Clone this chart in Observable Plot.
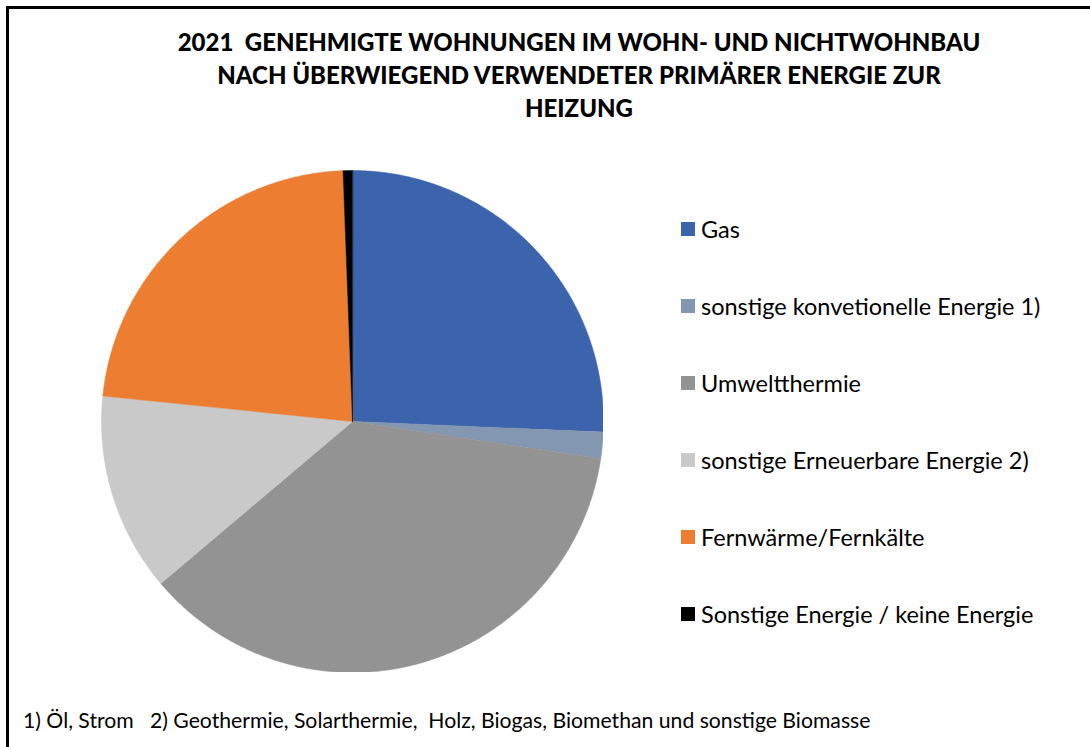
<!DOCTYPE html>
<html><head><meta charset="utf-8">
<script src="https://cdn.jsdelivr.net/npm/d3@7"></script>
<script src="https://cdn.jsdelivr.net/npm/@observablehq/plot@0.6"></script>
<style>
body{margin:0;background:#fff;font-family:Lato,"Open Sans",sans-serif;}
#frame{position:absolute;left:6px;top:6px;width:1200px;height:900px;border:3px solid #000;box-sizing:border-box;}
#title{position:absolute;left:0;width:1158px;top:25px;text-align:center;font-weight:900;font-size:24px;line-height:33px;color:#000;}
#pie{position:absolute;left:101px;top:170px;}
#legend{position:absolute;left:681px;top:190px;}
.item{height:77px;display:flex;align-items:center;font-size:23.5px;color:#000;white-space:nowrap;}
.sw{width:14px;height:14px;margin-right:6px;flex:none;}
#foot{position:absolute;left:23px;top:720px;transform:translateY(-50%);font-size:21.2px;color:#000;white-space:nowrap;}
</style></head><body>
<div id="frame"></div>
<div id="title">2021&nbsp; GENEHMIGTE WOHNUNGEN IM WOHN- UND NICHTWOHNBAU<br>NACH ÜBERWIEGEND VERWENDETER PRIMÄRER ENERGIE ZUR<br>HEIZUNG</div>
<div id="pie"></div>
<div id="legend"></div>
<div id="foot">1) Öl, Strom &nbsp; 2) Geothermie, Solarthermie, &nbsp;Holz, Biogas, Biomethan und sonstige Biomasse</div>
<script>
const categories = ["Gas","sonstige konvetionelle Energie 1)","Umweltthermie","sonstige Erneuerbare Energie 2)","Fernwärme/Fernkälte","Sonstige Energie / keine Energie"];
const shares = [25.7, 1.7, 36.5, 12.8, 22.8, 0.6];
const colors = ["#3c64ad","#8497b0","#939393","#c9c9c9","#ed7d31","#000000"];

const arcs = d3.pie().sort(null)(shares);
const pts = [];
arcs.forEach((a, i) => {
  const cat = categories[i];
  pts.push({cat, x: 0, y: 0});
  const n = Math.max(2, Math.ceil((a.endAngle - a.startAngle) / 0.005));
  for (let k = 0; k <= n; k++) {
    const t = a.startAngle + (a.endAngle - a.startAngle) * k / n;
    pts.push({cat, x: Math.sin(t), y: Math.cos(t)});
  }
});

const chart = Plot.plot({
  width: 502, height: 502, margin: 0,
  x: {domain: [-1, 1], axis: null},
  y: {domain: [-1, 1], axis: null},
  color: {domain: categories, range: colors},
  marks: [
    Plot.line(pts, {x: "x", y: "y", z: "cat", fill: "cat", stroke: "cat", strokeWidth: 0.5, curve: "linear-closed"})
  ]
});
document.getElementById("pie").appendChild(chart);

const leg = document.getElementById("legend");
categories.forEach((c, i) => {
  const d = document.createElement("div");
  d.className = "item";
  d.innerHTML = `<span class="sw" style="background:${colors[i]}"></span><span>${c}</span>`;
  leg.appendChild(d);
});
</script>
</body></html>
